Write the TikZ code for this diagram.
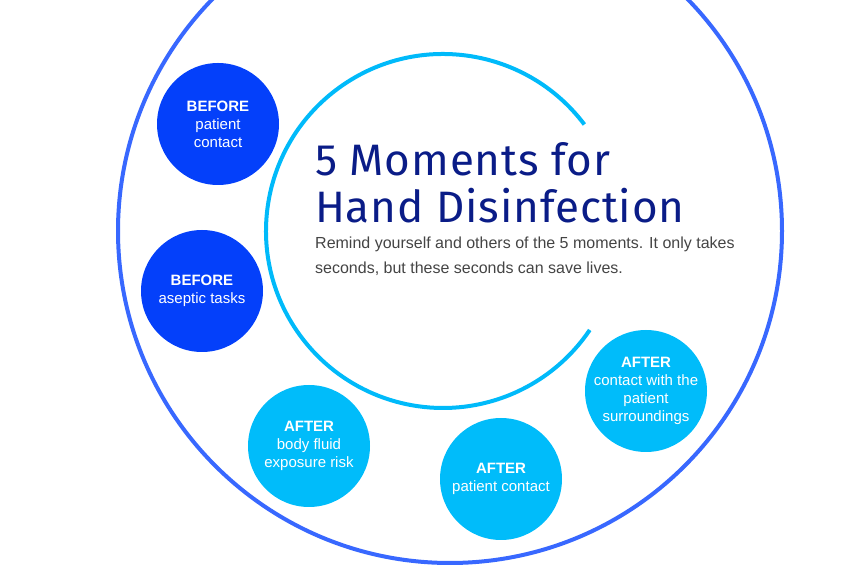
\documentclass[tikz,border=0pt]{standalone}
\usepackage{fontspec}
\setmainfont{Liberation Sans}
\newfontfamily\titlefont[LetterSpace=2]{Fira Sans}
\usetikzlibrary{positioning}
\definecolor{ringBlue}{RGB}{56,104,255}
\definecolor{arcCyan}{RGB}{0,186,250}
\definecolor{momentDark}{RGB}{4,64,250}
\definecolor{momentLight}{RGB}{0,188,250}
\definecolor{titleNavy}{RGB}{10,28,135}
\definecolor{bodyGray}{RGB}{68,68,68}
\tikzset{
  moment dark/.style={circle,fill=momentDark,minimum size=122pt,inner sep=0pt},
  moment light/.style={circle,fill=momentLight,minimum size=122pt,inner sep=0pt},
  moment text/.style={align=center,text=white,inner sep=0pt,font=\fontsize{15}{18}\selectfont},
  ring line/.style={draw=ringBlue,line width=4pt},
  arc line/.style={draw=arcCyan,line width=4pt},
  title text/.style={align=left,text=titleNavy,inner sep=0pt,font=\titlefont\fontsize{44}{47}\selectfont},
  body text/.style={align=left,text=bodyGray,inner sep=0pt,font=\fontsize{16}{25}\selectfont}
}
\begin{document}
\begin{tikzpicture}[x=1pt,y=1pt]
  \useasboundingbox (0,0) rectangle (868,578);
  % rings
  \coordinate (ringCentre) at (450,347);
  \coordinate (hub) at (443,347);
  \draw[ring line] (ringCentre) circle[radius=332pt];
  \draw[arc line] ([shift={(37:177pt)}]hub) arc[start angle=37,end angle=326,radius=177pt];
  % heading
  \node[title text,anchor=north west] (title) at (315,436) {5 Moments for\\Hand Disinfection};
  \node[body text,anchor=north west] (remind) at (315,341) {Remind yourself and others of the 5 moments. It only takes\\seconds, but these seconds can save lives.};
  % moments
  \node[moment dark] (beforePatient) at (218,454) {};
  \node[moment dark] (beforeAseptic) at (202,287) {};
  \node[moment light] (afterFluid) at (309,132) {};
  \node[moment light] (afterPatient) at (501,99) {};
  \node[moment light] (afterSurround) at (646,187) {};
  \node[moment text] at (beforePatient) {\textbf{BEFORE}\\patient\\contact};
  \node[moment text] at (beforeAseptic) {\textbf{BEFORE}\\aseptic tasks};
  \node[moment text] at (afterFluid) {\textbf{AFTER}\\body fluid\\exposure risk};
  \node[moment text] at (afterPatient) {\textbf{AFTER}\\patient contact};
  \node[moment text] at (afterSurround) {\textbf{AFTER}\\contact with the\\patient\\surroundings};
\end{tikzpicture}
\end{document}
